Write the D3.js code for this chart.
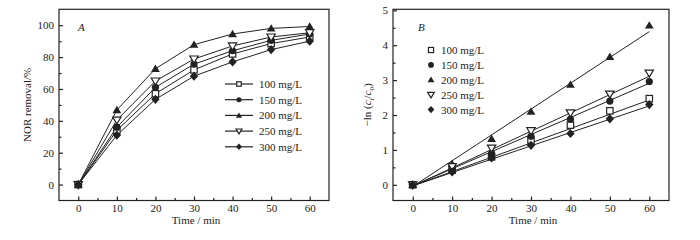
<!DOCTYPE html>
<html>
<head>
<meta charset="utf-8">
<script src="https://cdn.jsdelivr.net/npm/d3@7"></script>
<style>
  body { margin: 0; background: #fff; }
  svg { display: block; }
</style>
</head>
<body>
<svg id="chart" width="700" height="240"></svg>
<script>
// time points (min)
const times = [0, 10, 20, 30, 40, 50, 60];
const seriesNames = ["100 mg/L", "150 mg/L", "200 mg/L", "250 mg/L", "300 mg/L"];
const markerTypes = ["square", "circle", "triangle", "triangleDown", "diamond"];

// panel A: NOR removal (%)
const removal100 = [0, 34, 57, 72, 82, 88.5, 92.6];
const removal150 = [0, 36, 61, 75.6, 84, 90.5, 94.5];
const removal200 = [0, 46.8, 72.7, 87.8, 94.5, 98, 99.2];
const removal250 = [0, 40.5, 65, 78.8, 87, 92.6, 95.3];
const removal300 = [0, 31, 53.5, 68, 77, 84.7, 90];

// panel B: -ln(ct/c0)
const lnc100 = [0, 0.42, 0.8, 1.28, 1.71, 2.12, 2.47];
const lnc150 = [0, 0.45, 0.9, 1.39, 1.88, 2.4, 2.96];
const lnc200 = [0, 0.6, 1.32, 2.1, 2.87, 3.67, 4.57];
const lnc250 = [0, 0.52, 1.05, 1.55, 2.06, 2.6, 3.2];
const lnc300 = [0, 0.37, 0.77, 1.13, 1.47, 1.89, 2.3];

// linear fits in panel B (slope, intercept)
const fitSlope = [0.0410, 0.0490, 0.0740, 0.0525, 0.0382];
const fitIntercept = [-0.03, -0.03, -0.05, -0.04, -0.03];

const xTicks = [0, 10, 20, 30, 40, 50, 60];
const yTicksA = [0, 20, 40, 60, 80, 100];
const yTicksB = [0, 1, 2, 3, 4, 5];

const removalData = [removal100, removal150, removal200, removal250, removal300];
const lncData = [lnc100, lnc150, lnc200, lnc250, lnc300];

const serif = "'Liberation Serif', 'Times New Roman', Times, serif";
const svg = d3.select("#chart");
const ink = "#222";

function drawMarker(g, type, cx, cy, s) {
    // s = half size
    if (type == "square") {
        g.append("rect").attr("x", cx - s * 0.8).attr("y", cy - s * 0.8)
            .attr("width", s * 1.6).attr("height", s * 1.6)
            .attr("fill", "#fff").attr("stroke", ink).attr("stroke-width", 1.2);
    } else if (type == "circle") {
        g.append("circle").attr("cx", cx).attr("cy", cy).attr("r", s * 0.9)
            .attr("fill", ink);
    } else if (type == "triangle") {
        g.append("path")
            .attr("d", `M${cx},${cy - s * 1.05}L${cx + s * 1.1},${cy + s * 0.8}L${cx - s * 1.1},${cy + s * 0.8}Z`)
            .attr("fill", ink);
    } else if (type == "triangleDown") {
        g.append("path")
            .attr("d", `M${cx},${cy + s * 1.0}L${cx + s * 1.05},${cy - s * 0.75}L${cx - s * 1.05},${cy - s * 0.75}Z`)
            .attr("fill", "#fff").attr("stroke", ink).attr("stroke-width", 1.2);
    } else {
        g.append("path")
            .attr("d", `M${cx},${cy - s * 1.15}L${cx + s * 1.05},${cy}L${cx},${cy + s * 1.15}L${cx - s * 1.05},${cy}Z`)
            .attr("fill", ink);
    }
}

function drawFrame(x, y, yTicks, yMinorStep) {
    const g = svg.append("g");
    const [x0, x1] = x.range();
    const [y0, y1] = y.range();

    // major ticks, pointing inward
    g.append("g").attr("transform", `translate(0,${y0})`)
        .call(d3.axisBottom(x).tickValues(xTicks).tickSize(-4).tickPadding(4).tickSizeOuter(0));
    g.append("g").attr("transform", `translate(0,${y0})`)
        .call(d3.axisBottom(x).tickValues(xTicks.slice(0, -1).map(t => t + 5)).tickSize(-2.5).tickFormat("").tickSizeOuter(0));
    g.append("g").attr("transform", `translate(${x0},0)`)
        .call(d3.axisLeft(y).tickValues(yTicks).tickFormat(d3.format("d")).tickSize(-4).tickPadding(5).tickSizeOuter(0));
    g.append("g").attr("transform", `translate(${x0},0)`)
        .call(d3.axisLeft(y).tickValues(yTicks.slice(0, -1).map(t => t + yMinorStep)).tickSize(-2.5).tickFormat("").tickSizeOuter(0));

    g.selectAll(".domain").remove();
    g.selectAll(".tick line").attr("stroke", ink).attr("stroke-width", 1.2);
    g.selectAll(".tick text").style("font-size", "11px").attr("fill", ink);

    g.append("rect").attr("x", x0).attr("y", y1)
        .attr("width", x1 - x0).attr("height", y0 - y1)
        .attr("fill", "none").attr("stroke", ink).attr("stroke-width", 1.2);

    g.append("text").attr("x", (x0 + x1) / 2 + 2).attr("y", 224)
        .attr("text-anchor", "middle").style("font-size", "11px")
        .text("Time / min");
    return g;
}

// ---------- panel A ----------
const xA = d3.scaleLinear().domain([-5, 65]).range([59, 329]);
const yA = d3.scaleLinear().domain([-10, 110]).range([200.5, 9.3]);

drawFrame(xA, yA, yTicksA, 10);

const lineA = d3.line().x((d, i) => xA(times[i])).y(d => yA(d));
const gA = svg.append("g");
removalData.forEach((vals, k) => {
    gA.append("path").datum(vals).attr("d", lineA)
        .attr("fill", "none").attr("stroke", ink).attr("stroke-width", 1);
});
removalData.forEach((vals, k) => {
    vals.forEach((v, i) => drawMarker(gA, markerTypes[k], xA(times[i]), yA(v), 4));
});

svg.append("text").attr("x", 78).attr("y", 31)
    .style("font-size", "11px").style("font-style", "italic").text("A");

svg.append("text")
    .attr("transform", `translate(31,${(9.3 + 200.5) / 2}) rotate(-90)`)
    .attr("text-anchor", "middle").style("font-size", "11px")
    .text("NOR removal/%");

// legend A
const legA = svg.append("g");
seriesNames.forEach((name, k) => {
    const ly = 84 + k * 15.7;
    legA.append("line").attr("x1", 225).attr("x2", 253).attr("y1", ly).attr("y2", ly)
        .attr("stroke", ink).attr("stroke-width", 1.2);
    drawMarker(legA, markerTypes[k], 239, ly, 2.8);
    legA.append("text").attr("x", 259).attr("y", ly + 4)
        .style("font-size", "11px").text(name);
});

// ---------- panel B ----------
const xB = d3.scaleLinear().domain([-5, 65]).range([393, 669]);
const yB = d3.scaleLinear().domain([-0.45, 5.03]).range([200.5, 9.3]);

drawFrame(xB, yB, yTicksB, 0.5);

const gB = svg.append("g");
fitSlope.forEach((m, k) => {
    gB.append("line")
        .attr("x1", xB(0)).attr("y1", yB(fitIntercept[k]))
        .attr("x2", xB(60)).attr("y2", yB(fitIntercept[k] + m * 60))
        .attr("stroke", ink).attr("stroke-width", 1);
});
lncData.forEach((vals, k) => {
    vals.forEach((v, i) => drawMarker(gB, markerTypes[k], xB(times[i]), yB(v), 4));
});

svg.append("text").attr("x", 418).attr("y", 31)
    .style("font-size", "11px").style("font-style", "italic").text("B");

const yTitleB = svg.append("text")
    .attr("transform", `translate(371,${(9.3 + 200.5) / 2}) rotate(-90)`)
    .attr("text-anchor", "middle").style("font-size", "11px");
yTitleB.append("tspan").text("\u2212ln (");
yTitleB.append("tspan").style("font-style", "italic").text("c");
yTitleB.append("tspan").attr("dy", 3).style("font-size", "7px").style("font-style", "italic").text("t");
yTitleB.append("tspan").attr("dy", -3).text("/");
yTitleB.append("tspan").style("font-style", "italic").text("c");
yTitleB.append("tspan").attr("dy", 3).style("font-size", "7px").text("0");
yTitleB.append("tspan").attr("dy", -3).text(")");

// legend B
const legB = svg.append("g");
seriesNames.forEach((name, k) => {
    const ly = 50 + k * 14.9;
    drawMarker(legB, markerTypes[k], 431, ly, 3.2);
    legB.append("text").attr("x", 441).attr("y", ly + 4)
        .style("font-size", "11px").text(name);
});

// serif text everywhere, like the printed figure
svg.selectAll("text").style("font-family", serif).attr("fill", ink);
</script>
</body>
</html>
